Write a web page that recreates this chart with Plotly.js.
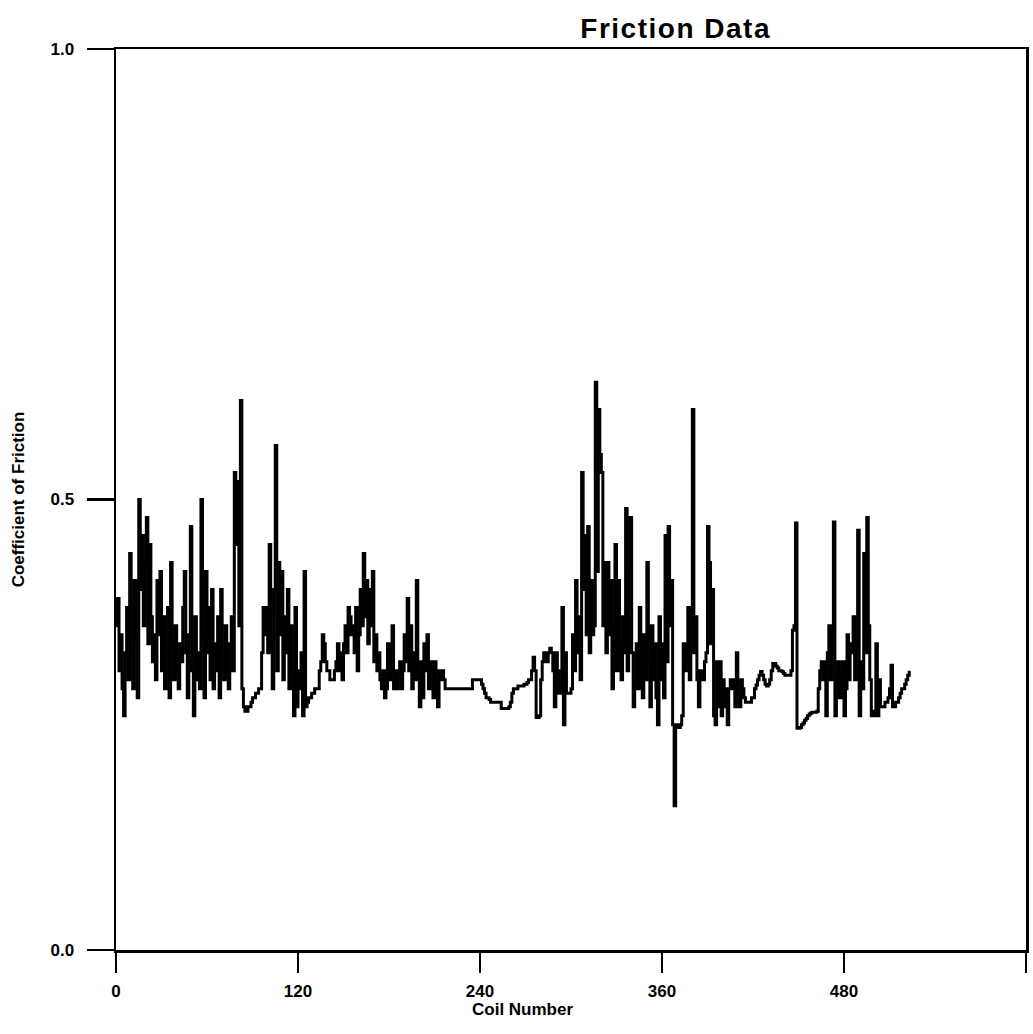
<!DOCTYPE html>
<html>
<head>
<meta charset="utf-8">
<script src="https://cdn.plot.ly/plotly-3.0.1.min.js"></script>
<style>html,body{margin:0;padding:0;background:#fff;}#chart{width:1033px;height:1034px;}
.gtitle{letter-spacing:1.5px;}</style>
</head>
<body>
<div id="chart"></div>
<script>
// Coefficient of friction per coil (coil number = index)
const friction_0_59 = [0.36,0.39,0.31,0.35,0.29,0.26,0.33,0.38,0.30,0.44,0.33,0.29,0.41,0.35,0.28,0.50,
  0.40,0.46,0.36,0.43,0.48,0.34,0.45,
  0.37,0.32,0.35,0.30,0.41,0.35,0.42,0.31,0.37,0.29,0.33,0.38,0.28,0.43,
  0.34,0.30,0.36,0.31,0.29,0.34,0.32,0.38,0.42,0.33,0.28,0.35,0.47,0.31,0.26,0.37,0.30,0.33,0.29,0.50,
  0.35,0.28,0.42];
const friction_60_120 = [0.33,0.38,0.30,0.40,0.29,0.34,0.31,0.37,0.28,0.40,0.33,0.30,0.36,0.31,0.29,0.34,0.37,0.31,0.53,0.45,0.52,0.36,0.61,
  0.29,0.27,0.265,0.265,0.27,0.27,0.275,0.28,0.28,0.285,0.285,0.29,0.29,
  0.33,0.38,0.35,0.38,0.33,0.45,0.34,0.29,0.40,0.56,0.31,0.43,0.35,0.42,0.30,0.37,0.33,0.40,0.29,0.36,0.31,0.26,0.38,0.27,0.31];
const friction_121_240 = [0.29,0.33,0.26,0.42,0.27,0.275,0.28,0.28,0.285,0.285,0.29,0.29,0.29,0.31,0.32,
  0.35,0.34,0.32,0.31,0.31,0.30,0.30,0.30,0.31,0.32,0.34,0.31,0.33,0.30,0.34,0.36,0.33,0.38,
  0.37,0.35,0.36,0.33,0.38,0.31,0.35,0.40,0.36,0.44,0.37,0.41,0.34,0.40,0.36,0.42,0.32,
  0.35,0.31,0.33,0.30,0.29,0.31,0.28,0.29,0.34,0.30,0.33,0.36,0.29,0.31,0.29,0.30,0.32,0.29,0.31,0.35,0.32,0.39,
  0.31,0.36,0.29,0.33,0.30,0.41,0.31,0.27,0.32,0.28,0.34,0.31,0.35,0.29,0.32,0.30,0.28,0.32,0.30,0.27,
  0.31,0.30,0.31,0.30,0.29,0.29,0.29,0.29,0.29,0.29,0.29,0.29,0.29,0.29,0.29,
  0.29,0.29,0.29,0.29,0.29,0.29,0.29,0.30,0.30,0.30,0.30,0.30,0.30];
const friction_241_360 = [0.295,0.29,0.285,0.28,0.28,0.278,
  0.275,0.275,0.275,0.275,0.275,0.275,0.275,
  0.268,0.268,0.268,0.268,0.268,0.27,0.275,0.285,0.29,
  0.29,0.29,0.293,0.293,0.293,0.293,0.295,0.295,0.297,0.30,0.30,0.31,
  0.325,0.31,0.258,0.258,0.26,0.30,
  0.32,0.33,0.33,0.32,0.33,0.335,0.33,0.31,0.27,
  0.33,0.31,0.285,0.29,0.38,0.25,0.33,0.285,0.285,0.285,0.29,0.35,0.31,0.41,0.33,0.37,0.30,0.53,0.40,0.46,0.35,0.47,0.33,0.41,0.35,0.36,0.63,
  0.42,0.60,0.55,0.53,0.36,0.43,0.33,0.43,0.35,0.41,0.29,0.36,0.45,0.31,0.41,0.34,0.30,0.37,0.33,0.49,0.31,0.42,
  0.48,0.33,0.27,0.30,0.34,0.29,0.38,0.31,0.28,0.35,0.30,0.43,0.32,0.27,0.36,0.30,0.34,0.28,0.25,
  0.37,0.30,0.34];
const friction_361_480 = [0.28,0.46,0.32,0.47,0.36,0.41,0.25,0.16,0.25,0.25,0.247,0.25,0.26,
  0.34,0.31,0.33,0.38,0.30,0.36,0.60,0.33,0.37,0.30,0.27,0.31,0.31,0.30,0.32,0.33,0.47,
  0.43,0.34,0.40,0.26,0.25,0.32,0.27,0.32,0.26,0.30,0.27,0.29,0.25,0.29,0.30,0.29,0.30,0.27,0.33,
  0.28,0.27,0.30,0.29,0.28,0.275,0.275,0.275,0.275,0.28,0.28,
  0.29,0.294,0.30,0.305,0.309,0.305,0.30,0.295,0.293,0.295,0.30,0.31,0.318,0.318,0.315,0.313,0.31,0.31,0.309,0.307,0.305,0.305,0.305,0.305,0.31,0.355,0.36,0.474,
  0.246,0.246,0.247,0.25,0.252,0.255,0.257,0.26,0.262,0.263,0.264,0.264,0.264,0.265,0.29,0.31,0.32,0.30,0.32,0.26,0.33,0.36,0.30,0.36,
  0.475,0.26,0.30,0.32,0.28,0.31,0.32,0.26];
const friction_481_523 = [0.29,0.35,0.30,0.34,0.33,0.37,0.30,0.34,0.466,0.26,0.32,0.29,0.44,0.33,0.48,0.36,
  0.30,0.26,0.26,0.265,0.34,0.26,0.30,0.27,0.27,0.27,0.275,0.275,0.28,0.29,0.316,0.27,0.27,0.275,0.275,0.28,0.285,0.29,0.29,0.295,0.30,0.305,0.31];

const friction = [].concat(friction_0_59, friction_60_120, friction_121_240, friction_241_360, friction_361_480, friction_481_523);
const coil = friction.map((_, i) => i);

const xTickVals = [0, 120, 240, 360, 480, 600];
const xTickText = ['0', '120', '240', '360', '480', ''];
const yTickVals = [0, 0.5, 1.0];
const yTickText = ['0.0', '0.5', '1.0'];

const labelFont = {family: 'Liberation Sans Narrow, Arial Narrow, Liberation Sans, Arial, sans-serif', size: 17, color: '#000', weight: 'bold'};

Plotly.newPlot('chart', [{
  x: coil, y: friction, type: 'scatter', mode: 'lines',
  line: {color: '#000', width: 3, shape: 'hv'},
  hoverinfo: 'x+y'
}], {
  width: 1033, height: 1034,
  margin: {l: 116, r: 7, t: 49, b: 84},
  paper_bgcolor: '#fff', plot_bgcolor: '#fff',
  showlegend: false,
  title: {text: 'Friction Data', x: 0.615, xref: 'paper', xanchor: 'center', y: 0.973, yref: 'container', yanchor: 'middle',
    font: {family: 'Liberation Sans, Arial, sans-serif', size: 28, color: '#000', weight: 'bold'}},
  xaxis: {
    range: [0, 600], showgrid: false, zeroline: false,
    showline: true, mirror: true, linecolor: '#000', linewidth: 2.5,
    ticks: 'outside', ticklen: 20, tickwidth: 2.5, tickcolor: '#000',
    tickvals: xTickVals, ticktext: xTickText, tickfont: labelFont, ticklabelstandoff: 4
  },
  yaxis: {
    range: [0, 1], showgrid: false, zeroline: false,
    showline: true, mirror: true, linecolor: '#000', linewidth: 2.5,
    ticks: 'outside', ticklen: 27, tickwidth: 2.5, tickcolor: '#000',
    tickvals: yTickVals, ticktext: yTickText, tickfont: labelFont, ticklabelstandoff: 9,
    title: {text: 'Coefficient of Friction', font: labelFont, standoff: 22}
  },
  annotations: [{
    text: 'Coil Number', xref: 'paper', yref: 'paper', x: 0.447, y: -0.066,
    xanchor: 'center', yanchor: 'middle', showarrow: false, font: labelFont
  }]
}, {displayModeBar: false, staticPlot: true});
</script>
</body>
</html>
